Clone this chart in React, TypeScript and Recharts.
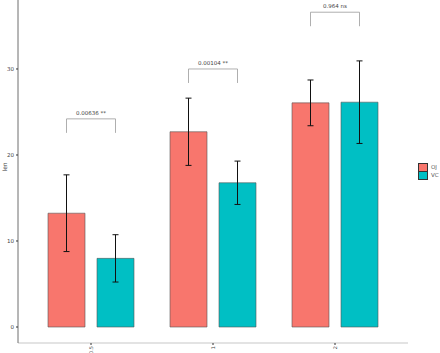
import React from "react";
import {
  ComposedChart,
  Bar,
  Line,
  XAxis,
  YAxis,
  ErrorBar,
} from "recharts";

// ToothGrowth: mean len by dose and supplement, with sd
const doses = ["0.5", "1", "2"];
const ojMean = [13.23, 22.7, 26.06];
const ojSd = [4.46, 3.91, 2.66];
const vcMean = [7.98, 16.77, 26.14];
const vcSd = [2.75, 2.52, 4.8];
const bracketAt = [24.2, 30.0, 36.6];
const pLabels = ["0.00636 **", "0.00104 **", "0.964 ns"];

const SUPPS = [
  { key: "OJ", color: "#F8766D" },
  { key: "VC", color: "#00BFC4" },
];

const BAR_SIZE = 37;
const BAR_GAP = 12;

const data = doses.map((d, i) => ({
  dose: d,
  OJ: ojMean[i],
  ojSd: ojSd[i],
  VC: vcMean[i],
  vcSd: vcSd[i],
  bracket: bracketAt[i],
  p: pLabels[i],
}));

function BracketDot(props: any) {
  const { cx, cy, payload, index } = props;
  if (cx == null || cy == null) return null;
  const half = (BAR_SIZE + BAR_GAP) / 2;
  const x1 = cx - half;
  const x2 = cx + half;
  const leg = 14;
  return (
    <g key={`br-${index}`}>
      <path
        d={`M${x1},${cy + leg} L${x1},${cy} L${x2},${cy} L${x2},${cy + leg}`}
        fill="none"
        stroke="#9a9a9a"
        strokeWidth={0.8}
      />
      <text
        x={cx}
        y={cy - 4}
        textAnchor="middle"
        fontSize={5.5}
        fill="#444"
        fontFamily="DejaVu Sans, sans-serif"
      >
        {payload.p}
      </text>
    </g>
  );
}

function XTick(props: any) {
  const { x, y, payload } = props;
  return (
    <text
      x={0}
      y={0}
      transform={`translate(${x + 2},${y - 1}) rotate(-90)`}
      textAnchor="end"
      fontSize={5}
      fill="#444"
      fontFamily="DejaVu Sans, sans-serif"
    >
      {payload.value}
    </text>
  );
}

export default function App() {
  return (
    <div
      style={{
        position: "absolute",
        left: 0,
        top: 0,
        width: 440,
        height: 353,
        background: "#fff",
      }}
    >
      <ComposedChart
        width={440}
        height={353}
        data={data}
        margin={{ top: 0, right: 32, bottom: 0, left: 0 }}
        barSize={BAR_SIZE}
        barGap={BAR_GAP}
      >
        <XAxis
          dataKey="dose"
          height={10}
          padding={{ left: 12, right: 12 }}
          axisLine={{ stroke: "#e3e3e3", strokeWidth: 2 }}
          tickLine={{ stroke: "#333" }}
          tickSize={2}
          tick={<XTick />}
          interval={0}
        />
        <YAxis
          width={18}
          type="number"
          domain={[-1.86, 38.02]}
          ticks={[0, 10, 20, 30]}
          allowDataOverflow
          axisLine={{ stroke: "#6e6e6e" }}
          tickLine={{ stroke: "#333" }}
          tickSize={2}
          tick={{ fontSize: 5.5, fill: "#444", fontFamily: "DejaVu Sans, sans-serif" }}
          label={{
            value: "len",
            angle: -90,
            position: "insideLeft",
            offset: 0,
            style: { fontSize: 6, fill: "#444", fontFamily: "DejaVu Sans, sans-serif" },
            dx: 5,
          }}
        />
        <Bar dataKey="OJ" fill={SUPPS[0].color} stroke="#555" strokeWidth={0.6} isAnimationActive={false}>
          <ErrorBar dataKey="ojSd" width={3} stroke="#111" strokeWidth={1} direction="y" />
        </Bar>
        <Bar dataKey="VC" fill={SUPPS[1].color} stroke="#555" strokeWidth={0.6} isAnimationActive={false}>
          <ErrorBar dataKey="vcSd" width={3} stroke="#111" strokeWidth={1} direction="y" />
        </Bar>
        <Line
          dataKey="bracket"
          stroke="none"
          dot={<BracketDot />}
          activeDot={false}
          legendType="none"
          isAnimationActive={false}
        />
      </ComposedChart>
      <div style={{ position: "absolute", left: 418, top: 163 }}>
        {SUPPS.map((s) => (
          <div key={s.key} style={{ display: "flex", alignItems: "center", height: 8 }}>
            <div
              style={{
                width: 8,
                height: 7,
                background: s.color,
                border: "0.5px solid #333",
              }}
            />
            <span
              style={{
                marginLeft: 3,
                fontSize: 5.5,
                color: "#555",
                fontFamily: "DejaVu Sans, sans-serif",
              }}
            >
              {s.key}
            </span>
          </div>
        ))}
      </div>
    </div>
  );
}
